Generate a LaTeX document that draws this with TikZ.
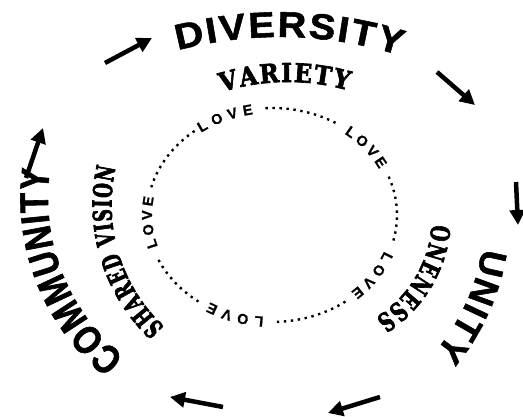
\documentclass[tikz,border=0pt]{standalone}
\usepackage{fontspec}
\usetikzlibrary{decorations.text,arrows.meta,calc}
\newfontfamily\divfont{Liberation Sans}[FakeStretch=1.1, FakeBold=1.5]
\newfontfamily\unifont{Liberation Sans}[FakeBold=1.5]
\newfontfamily\commfont{Liberation Sans}[FakeStretch=0.82, FakeBold=1.5]
\newfontfamily\lovefont{Liberation Sans}[FakeBold=1]
\newfontfamily\serifA{DejaVu Serif}[FakeStretch=0.9, FakeBold=2.5]
\newfontfamily\serifB{DejaVu Serif}[FakeStretch=0.65, FakeBold=2.5]
\newfontfamily\serifC{DejaVu Serif}[FakeStretch=0.7, FakeBold=2.5]
\begin{document}
\begin{tikzpicture}[x=1pt,y=1pt,
  arr/.style={line width=4.5pt, -{Triangle[length=15pt,width=15pt]}},
  dotline/.style={line width=2.4pt, dash pattern=on 2.4pt off 4.6pt},
  curvetext/.style={decorate, decoration={text along path, text align={fit to path}, text={#1}}},
  lovetext/.style={decorate, decoration={text along path, text align={fit to path}, raise=-5pt,
     text={|\lovefont\bfseries\fontsize{14.5}{16}\selectfont|LOVE}}}
]
\useasboundingbox (0,0) rectangle (523,417);
% centres
\coordinate (E) at (272,202);
\coordinate (Cdiv) at (280,-20);
\coordinate (Cuni) at (272,202);
\coordinate (Ccom) at (251,219);
\coordinate (Cvar) at (288,115);
\coordinate (Cshv) at (278,212);
\coordinate (Cone) at (312,201);

% outer words
\path[curvetext={|\divfont\bfseries\fontsize{36}{40}\selectfont|DIVERSITY}]
  ($(Cdiv)+(104.8:400pt)$) arc[start angle=104.8, end angle=72.5, radius=400pt];
\path[curvetext={|\unifont\bfseries\fontsize{36}{40}\selectfont|UNITY}]
  ($(Cuni)+(-9:213pt)$) arc[start angle=-9, end angle=-40, radius=213pt];
\path[curvetext={|\commfont\bfseries\fontsize{40}{44}\selectfont|COMMUNITY}]
  ($(Ccom)+(-128.5:203pt)$) arc[start angle=-128.5, end angle=-188, radius=203pt];

% inner words
\path[curvetext={|\serifA\bfseries\fontsize{26}{28}\selectfont|VARIETY}]
  ($(Cvar)+(107.5:220pt)$) arc[start angle=107.5, end angle=74.2, radius=220pt];
\path[curvetext={|\serifB\bfseries\fontsize{26}{28}\selectfont|SHARED VISION}]
  ($(Cshv)+(-133:166.5pt)$) arc[start angle=-133, end angle=-193, radius=166.5pt];
\path[curvetext={|\serifC\bfseries\fontsize{26}{28}\selectfont|ONENESS}]
  ($(Cone)+(-4:120pt)$) arc[start angle=-4, end angle=-58, radius=120pt];

% LOVE ring
\path[lovetext] ($(E)+(126:125pt and 107pt)$) arc[start angle=126, end angle=99, x radius=125pt, y radius=107pt];
\path[lovetext] ($(E)+(53:125pt and 107pt)$) arc[start angle=53, end angle=27, x radius=125pt, y radius=107pt];
\path[lovetext] ($(E)+(-21:125pt and 107pt)$) arc[start angle=-21, end angle=-49, x radius=125pt, y radius=107pt];
\path[lovetext] ($(E)+(-94:125pt and 107pt)$) arc[start angle=-94, end angle=-121, x radius=125pt, y radius=107pt];
\path[lovetext] ($(E)+(-162:125pt and 107pt)$) arc[start angle=-162, end angle=-190, x radius=125pt, y radius=107pt];

\draw[dotline] ($(E)+(93:125pt and 107pt)$) arc[start angle=93, end angle=58, x radius=125pt, y radius=107pt];
\draw[dotline] ($(E)+(21:125pt and 107pt)$) arc[start angle=21, end angle=-15, x radius=125pt, y radius=107pt];
\draw[dotline] ($(E)+(-54:125pt and 107pt)$) arc[start angle=-54, end angle=-88, x radius=125pt, y radius=107pt];
\draw[dotline] ($(E)+(-126:125pt and 107pt)$) arc[start angle=-126, end angle=-157, x radius=125pt, y radius=107pt];
\draw[dotline] ($(E)+(-195:125pt and 107pt)$) arc[start angle=-195, end angle=-233, x radius=125pt, y radius=107pt];

% arrows
\coordinate (a1s) at (105,354); \coordinate (a1e) at (152,379);
\coordinate (a2s) at (437,345); \coordinate (a2e) at (475,312);
\coordinate (a3s) at (516,235); \coordinate (a3e) at (518,192);
\coordinate (a4s) at (380,20);  \coordinate (a4e) at (328,4);
\coordinate (a5s) at (223,10);  \coordinate (a5e) at (170,20);
\coordinate (a6s) at (26,239);  \coordinate (a6e) at (43,289);
\draw[arr] (a1s) -- (a1e);
\draw[arr] (a2s) -- (a2e);
\draw[arr] (a3s) -- (a3e);
\draw[arr] (a4s) -- (a4e);
\draw[arr] (a5s) -- (a5e);
\draw[arr] (a6s) -- (a6e);
\end{tikzpicture}
\end{document}
